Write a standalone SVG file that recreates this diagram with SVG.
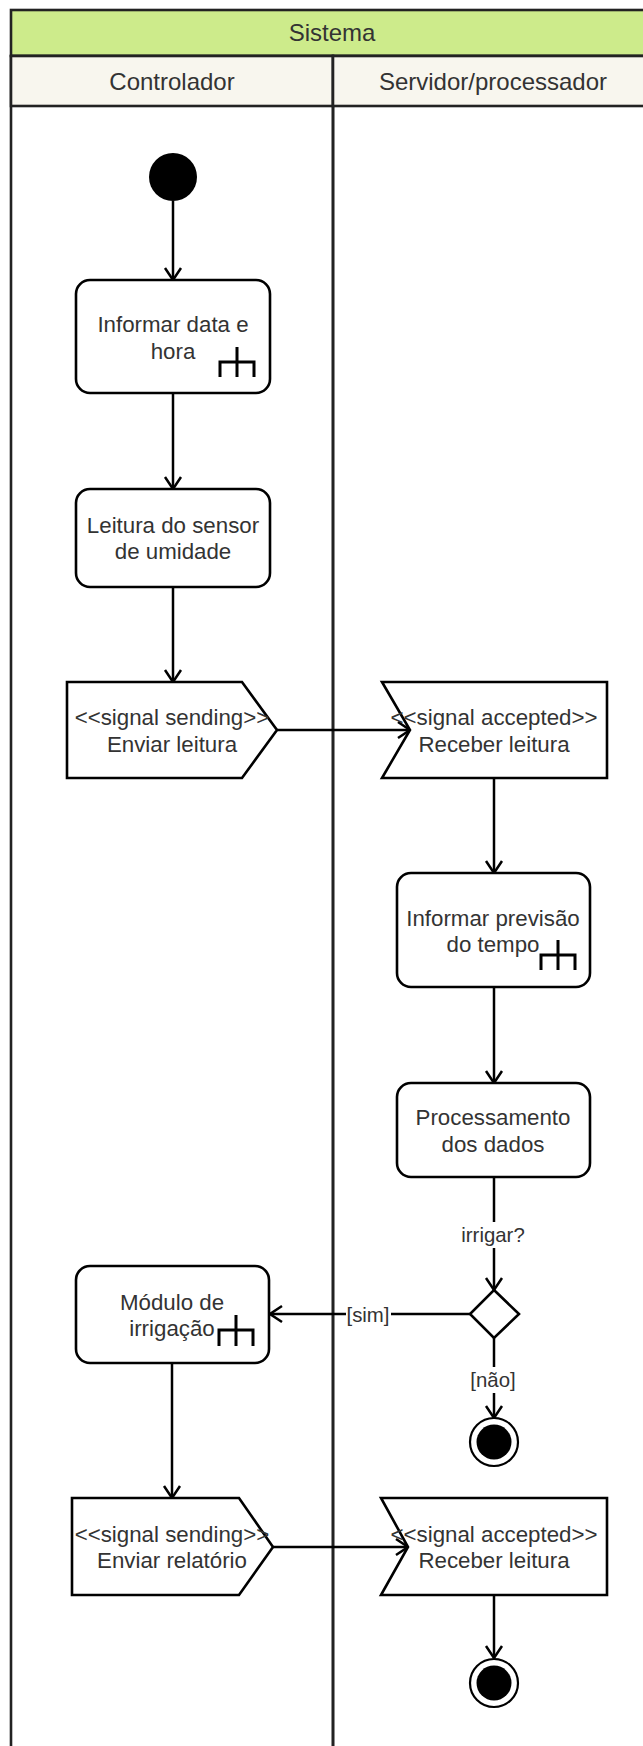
<svg xmlns="http://www.w3.org/2000/svg" width="643" height="1746" viewBox="0 0 643 1746">
<defs>
<style>
.lane{stroke:#222;stroke-width:2.6}
.node{fill:#fff;stroke:#000;stroke-width:2.6}
.edge{fill:none;stroke:#000;stroke-width:2.5}
.icon{fill:none;stroke:#000;stroke-width:3}
.t{font-family:"Liberation Sans",Arial,Helvetica,sans-serif;fill:#333;text-anchor:middle}
.nt{font-size:22.3px}
.ht{font-size:24px}
.lt{font-size:20.4px}
.lbg{fill:#fff}
</style>
<marker id="open" viewBox="-14 -10 16 20" refX="0" refY="0" markerWidth="16" markerHeight="20" markerUnits="userSpaceOnUse" orient="auto">
<path d="M-12,-8 L0,0 L-12,8" fill="none" stroke="#000" stroke-width="2.5"/>
</marker>
</defs>

<g id="pool">
<rect class="lane" x="11" y="10" width="642" height="46" fill="#cdeb8b"/>
<text class="t ht" x="332" y="41">Sistema</text>
</g>
<g id="lane-controlador">
<rect class="lane" x="11" y="56" width="322" height="1710" fill="none"/>
<rect class="lane" x="11" y="56" width="322" height="50" fill="#f8f6ee"/>
<text class="t ht" x="172" y="89.5">Controlador</text>
</g>
<g id="lane-servidor">
<rect class="lane" x="333" y="56" width="320" height="1710" fill="none"/>
<rect class="lane" x="333" y="56" width="320" height="50" fill="#f8f6ee"/>
<text class="t ht" x="493" y="89.5">Servidor/processador</text>
</g>

<g id="connectors">
<line class="edge" x1="173" y1="201" x2="173" y2="280" marker-end="url(#open)"/>
<line class="edge" x1="173" y1="393" x2="173" y2="489" marker-end="url(#open)"/>
<line class="edge" x1="173" y1="587" x2="173" y2="682" marker-end="url(#open)"/>
<line class="edge" x1="277" y1="730" x2="410" y2="730" marker-end="url(#open)"/>
<line class="edge" x1="494" y1="778" x2="494" y2="873" marker-end="url(#open)"/>
<line class="edge" x1="494" y1="987" x2="494" y2="1083" marker-end="url(#open)"/>
<line class="edge" x1="494" y1="1177" x2="494" y2="1290" marker-end="url(#open)"/>
<line class="edge" x1="470" y1="1314" x2="270" y2="1314" marker-end="url(#open)"/>
<line class="edge" x1="494" y1="1338" x2="494" y2="1418" marker-end="url(#open)"/>
<line class="edge" x1="172" y1="1363" x2="172" y2="1498" marker-end="url(#open)"/>
<line class="edge" x1="273" y1="1547" x2="408" y2="1547" marker-end="url(#open)"/>
<line class="edge" x1="494" y1="1595" x2="494" y2="1658" marker-end="url(#open)"/>
<rect class="lbg" x="461" y="1222" width="65" height="26"/>
<text class="t lt" x="493" y="1242">irrigar?</text>
<rect class="lbg" x="346" y="1302" width="45" height="26"/>
<text class="t lt" x="368" y="1322">[sim]</text>
<rect class="lbg" x="470" y="1367" width="47" height="26"/>
<text class="t lt" x="493" y="1387">[não]</text>
</g>

<g id="initial">
<circle cx="173" cy="177" r="24" fill="#000"/>
</g>

<g id="informar-data-hora">
<rect class="node" x="76" y="280" width="194" height="113" rx="14"/>
<text class="t nt" x="173" y="332">Informar data e</text>
<text class="t nt" x="173" y="359">hora</text>
<path class="icon" d="M237,347 V377 M220,377 V362 H254 V377"/>
</g>

<g id="leitura-sensor">
<rect class="node" x="76" y="489" width="194" height="98" rx="14"/>
<text class="t nt" x="173" y="532.5">Leitura do sensor</text>
<text class="t nt" x="173" y="559">de umidade</text>
</g>

<g id="enviar-leitura">
<polygon class="node" points="67,682 242,682 277,730 242,778 67,778"/>
<text class="t nt" x="172" y="725">&lt;&lt;signal sending&gt;&gt;</text>
<text class="t nt" x="172" y="752">Enviar leitura</text>
</g>

<g id="receber-leitura-1">
<polygon class="node" points="382,682 607,682 607,778 382,778 410,730"/>
<text class="t nt" x="494" y="725">&lt;&lt;signal accepted&gt;&gt;</text>
<text class="t nt" x="494" y="752">Receber leitura</text>
</g>

<g id="informar-previsao">
<rect class="node" x="397" y="873" width="193" height="114" rx="14"/>
<text class="t nt" x="493" y="926">Informar previsão</text>
<text class="t nt" x="493" y="952">do tempo</text>
<path class="icon" d="M558,940 V970 M541,970 V955 H575 V970"/>
</g>

<g id="processamento">
<rect class="node" x="397" y="1083" width="193" height="94" rx="14"/>
<text class="t nt" x="493" y="1125">Processamento</text>
<text class="t nt" x="493" y="1151.5">dos dados</text>
</g>

<g id="decisao">
<polygon class="node" points="494,1290 519,1314 494,1338 470,1314"/>
</g>

<g id="final-1">
<circle cx="494" cy="1442" r="24" fill="#fff" stroke="#000" stroke-width="2.2"/>
<circle cx="494" cy="1442" r="17.5" fill="#000"/>
</g>

<g id="modulo-irrigacao">
<rect class="node" x="76" y="1266" width="193" height="97" rx="14"/>
<text class="t nt" x="172" y="1309.5">Módulo de</text>
<text class="t nt" x="172" y="1336">irrigação</text>
<path class="icon" d="M236,1315 V1346 M219,1346 V1330 H253 V1346"/>
</g>

<g id="enviar-relatorio">
<polygon class="node" points="72,1498 239,1498 273,1547 239,1595 72,1595"/>
<text class="t nt" x="172" y="1542">&lt;&lt;signal sending&gt;&gt;</text>
<text class="t nt" x="172" y="1568">Enviar relatório</text>
</g>

<g id="receber-leitura-2">
<polygon class="node" points="381,1498 607,1498 607,1595 381,1595 408,1547"/>
<text class="t nt" x="494" y="1542">&lt;&lt;signal accepted&gt;&gt;</text>
<text class="t nt" x="494" y="1568">Receber leitura</text>
</g>

<g id="final-2">
<circle cx="494" cy="1683" r="24" fill="#fff" stroke="#000" stroke-width="2.2"/>
<circle cx="494" cy="1683" r="17.5" fill="#000"/>
</g>
</svg>
